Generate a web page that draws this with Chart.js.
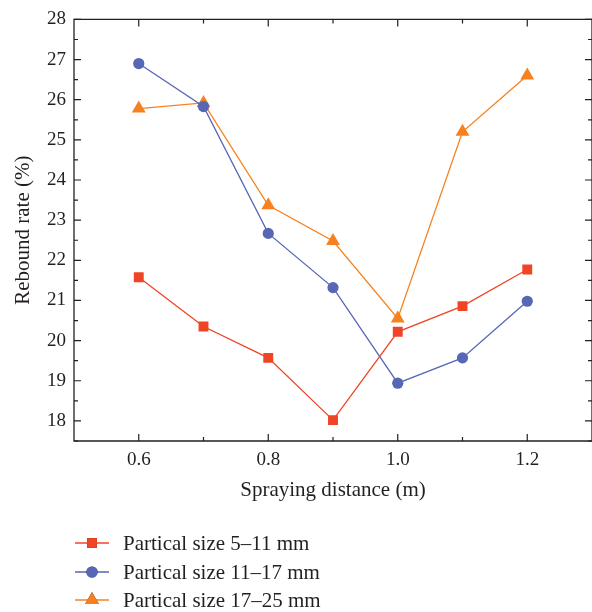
<!DOCTYPE html>
<html>
<head>
<meta charset="utf-8">
<script src="https://cdn.jsdelivr.net/npm/chart.js@4"></script>
<style>
  html, body { margin: 0; padding: 0; background: #fff; }
  #wrap { width: 592px; height: 612px; overflow: hidden; }
</style>
</head>
<body>
<div id="wrap"><canvas id="chart" width="600" height="612"></canvas></div>
<script>
// values
const distances = [0.6, 0.7, 0.8, 0.9, 1.0, 1.1, 1.2];
const rate5to11 = [21.58, 20.35, 19.57, 18.02, 20.22, 20.86, 21.77];
const rate11to17 = [26.9, 25.83, 22.67, 21.32, 18.94, 19.57, 20.98];
const rate17to25 = [25.78, 25.92, 23.37, 22.48, 20.55, 25.2, 26.6];
const seriesNames = ["Partical size 5\u201311 mm", "Partical size 11\u201317 mm", "Partical size 17\u201325 mm"];
const xTickLabels = [0.6, 0.8, 1.0, 1.2];
const xMinorTicks = [0.7, 0.9, 1.1];
const yTickLabels = [18, 19, 20, 21, 22, 23, 24, 25, 26, 27, 28];

const FONT = "'Liberation Serif', 'DejaVu Serif', serif";
const INK = "#231f20";

function toPoints(ys) {
  return distances.map((x, i) => ({ x: x, y: ys[i] }));
}

// draws the box axes with inward ticks (like the original plot)
const framePlugin = {
  id: "frame",
  afterDraw(chart) {
    const ctx = chart.ctx;
    const a = chart.chartArea;
    const xs = chart.scales.x;
    const ys = chart.scales.y;
    ctx.save();
    ctx.strokeStyle = INK;
    ctx.lineWidth = 1.3;
    ctx.beginPath();
    ctx.moveTo(a.left, a.top);
    ctx.lineTo(a.right, a.top);
    ctx.lineTo(a.right, a.bottom);
    ctx.lineTo(a.left, a.bottom);
    ctx.closePath();
    ctx.stroke();

    ctx.lineWidth = 1.2;
    ctx.beginPath();
    xTickLabels.concat(xMinorTicks).forEach((v) => {
      const len = xMinorTicks.includes(v) ? 4 : 7;
      const px = xs.getPixelForValue(v);
      ctx.moveTo(px, a.bottom);
      ctx.lineTo(px, a.bottom - len);
      ctx.moveTo(px, a.top);
      ctx.lineTo(px, a.top + len);
    });
    yTickLabels.forEach((v) => {
      [v, v - 0.5].forEach((t, k) => {
        const len = k === 0 ? 7 : 4;
        const py = ys.getPixelForValue(t);
        ctx.moveTo(a.left, py);
        ctx.lineTo(a.left + len, py);
        ctx.moveTo(a.right, py);
        ctx.lineTo(a.right - len, py);
      });
    });
    ctx.stroke();
    ctx.restore();
  },
};

// legend below the chart: short line with marker, then the text
const legendPlugin = {
  id: "sideLegend",
  afterDraw(chart) {
    const ctx = chart.ctx;
    const rows = [543, 572, 600];
    ctx.save();
    chart.data.datasets.forEach((ds, i) => {
      const y = rows[i];
      ctx.strokeStyle = ds.borderColor;
      ctx.lineWidth = 1.3;
      ctx.beginPath();
      ctx.moveTo(75, y);
      ctx.lineTo(109, y);
      ctx.stroke();
      Chart.helpers.drawPoint(ctx, {
        pointStyle: ds.pointStyle,
        radius: ds.pointRadius,
        borderWidth: 0,
        rotation: 0,
      }, 92, y);
      ctx.fillStyle = ds.backgroundColor;
      ctx.fill();
      ctx.fillStyle = INK;
      ctx.font = "21px " + FONT;
      ctx.textBaseline = "middle";
      ctx.fillText(ds.label, 123, y + 1);
    });
    ctx.restore();
  },
};

const colors = ["#ef4426", "#5766b5", "#f7811f"];
const styles = ["rect", "circle", "triangle"];
const radii = [7, 5.6, 8];
const datasets = [rate5to11, rate11to17, rate17to25].map((vals, i) => ({
  label: seriesNames[i],
  data: toPoints(vals),
  borderColor: colors[i],
  backgroundColor: colors[i],
  borderWidth: 1.3,
  pointStyle: styles[i],
  pointRadius: radii[i],
  pointBorderWidth: 0,
  pointHoverRadius: radii[i],
  pointBackgroundColor: colors[i],
  tension: 0,
}));

new Chart(document.getElementById("chart"), {
  type: "line",
  data: { datasets: datasets },
  plugins: [framePlugin, legendPlugin],
  options: {
    responsive: false,
    animation: false,
    layout: { padding: { top: 19, right: 2, bottom: 106, left: 0 } },
    plugins: { legend: { display: false }, tooltip: { enabled: false } },
    scales: {
      x: {
        type: "linear",
        min: 0.5,
        max: 1.3,
        grid: { display: false, drawTicks: false },
        border: { display: false },
        afterBuildTicks: (s) => { s.ticks = xTickLabels.map((v) => ({ value: v })); },
        afterFit: (s) => { s.height = 65; },
        ticks: {
          padding: 8,
          color: INK,
          font: { family: FONT, size: 19 },
          callback: (v) => Number(v).toFixed(1),
        },
        title: {
          display: true,
          text: "Spraying distance (m)",
          color: INK,
          font: { family: FONT, size: 21 },
          padding: { top: 0, bottom: 3 },
        },
      },
      y: {
        min: 17.5,
        max: 28,
        grid: { display: false, drawTicks: false },
        border: { display: false },
        afterBuildTicks: (s) => { s.ticks = yTickLabels.map((v) => ({ value: v })); },
        afterFit: (s) => { s.width = 74; },
        ticks: {
          padding: 8,
          color: INK,
          font: { family: FONT, size: 19 },
        },
        title: {
          display: true,
          text: "Rebound rate (%)",
          color: INK,
          font: { family: FONT, size: 21 },
          padding: { top: 11, bottom: 0 },
        },
      },
    },
  },
});
</script>
</body>
</html>
